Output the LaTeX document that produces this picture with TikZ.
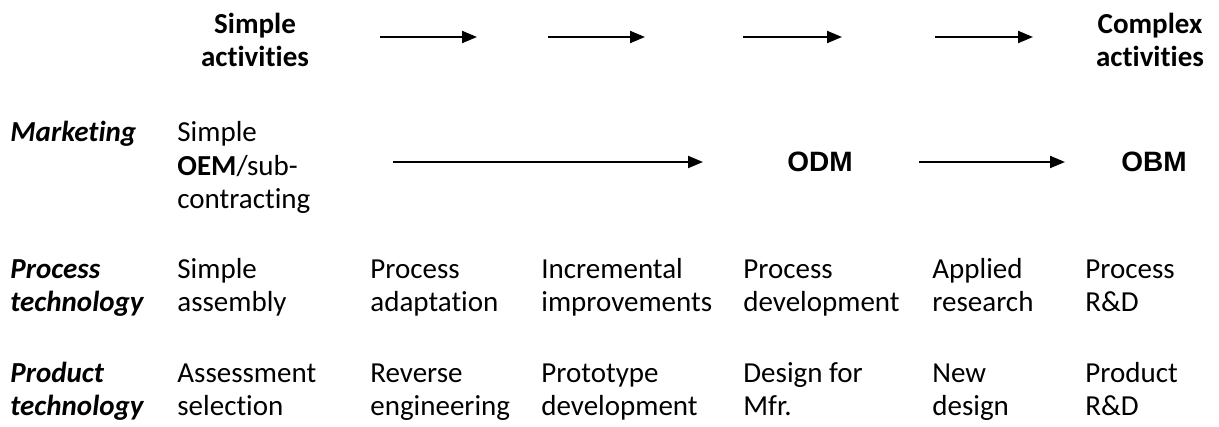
\documentclass[tikz,border=0pt]{standalone}
\usepackage{fontspec}
\setmainfont{Carlito}[Ligatures=NoCommon]
\newfontfamily\arialfont{Liberation Sans}
\usetikzlibrary{arrows.meta, positioning}

\newcommand\cellsize{\fontsize{14.5}{16.5}\selectfont}
\tikzset{
  rowlabel/.style={font=\cellsize\bfseries\itshape, align=left, anchor=base west, inner sep=0pt},
  cell/.style={font=\cellsize, align=left, anchor=base west, inner sep=0pt},
  headtext/.style={font=\cellsize\bfseries, align=center, inner sep=0pt},
  stage/.style={font=\fontsize{14}{16}\arialfont\bfseries, inner sep=0pt},
  flow/.style={-{Triangle[length=7.5pt, width=6pt]}, line width=1pt}
}

\begin{document}
\begin{tikzpicture}[x=0.5pt, y=-0.5pt]
  \useasboundingbox (0,0) rectangle (1219,427);

  % column positions (px); rows are placed by the baseline of their last line
  \def\cA{177} \def\cB{370} \def\cC{541} \def\cD{743} \def\cE{932} \def\cF{1085}

  % --- header: simple -> complex ---
  \node[headtext] (simple) at (255,40) {Simple\\activities};
  \node[headtext] (complex) at (1150,40) {Complex\\activities};

  \coordinate (h1s) at (380,37);  \coordinate (h1e) at (477,37);
  \coordinate (h2s) at (548,37);  \coordinate (h2e) at (645,37);
  \coordinate (h3s) at (743,37);  \coordinate (h3e) at (842,37);
  \coordinate (h4s) at (935,37);  \coordinate (h4e) at (1033,37);
  \draw[flow] (h1s) -- (h1e);
  \draw[flow] (h2s) -- (h2e);
  \draw[flow] (h3s) -- (h3e);
  \draw[flow] (h4s) -- (h4e);

  % --- marketing row ---
  \node[rowlabel] (mkt) at (10,142) {Marketing};
  \node[cell] (oem) at (\cA,208) {Simple\\\textbf{OEM}/sub-\\contracting};
  \node[stage] (odm) at (820,162) {ODM};
  \node[stage] (obm) at (1154,162) {OBM};

  \coordinate (m1s) at (393,162);  \coordinate (m1e) at (703,162);
  \coordinate (m2s) at (919,162);  \coordinate (m2e) at (1065,162);
  \draw[flow] (m1s) -- (m1e);
  \draw[flow] (m2s) -- (m2e);

  % --- process technology row ---
  \node[rowlabel] (proc) at (10,311) {Process\\technology};
  \node[cell] (p1) at (\cA,311) {Simple\\assembly};
  \node[cell] (p2) at (\cB,311) {Process\\adaptation};
  \node[cell] (p3) at (\cC,311) {Incremental\\improvements};
  \node[cell] (p4) at (\cD,311) {Process\\development};
  \node[cell] (p5) at (\cE,311) {Applied\\research};
  \node[cell] (p6) at (\cF,311) {Process\\R\&D};

  % --- product technology row ---
  \node[rowlabel] (prod) at (10,415) {Product\\technology};
  \node[cell] (d1) at (\cA,415) {Assessment\\selection};
  \node[cell] (d2) at (\cB,415) {Reverse\\engineering};
  \node[cell] (d3) at (\cC,415) {Prototype\\development};
  \node[cell] (d4) at (\cD,415) {Design for\\Mfr.};
  \node[cell] (d5) at (\cE,415) {New\\design};
  \node[cell] (d6) at (\cF,415) {Product\\R\&D};
\end{tikzpicture}
\end{document}
